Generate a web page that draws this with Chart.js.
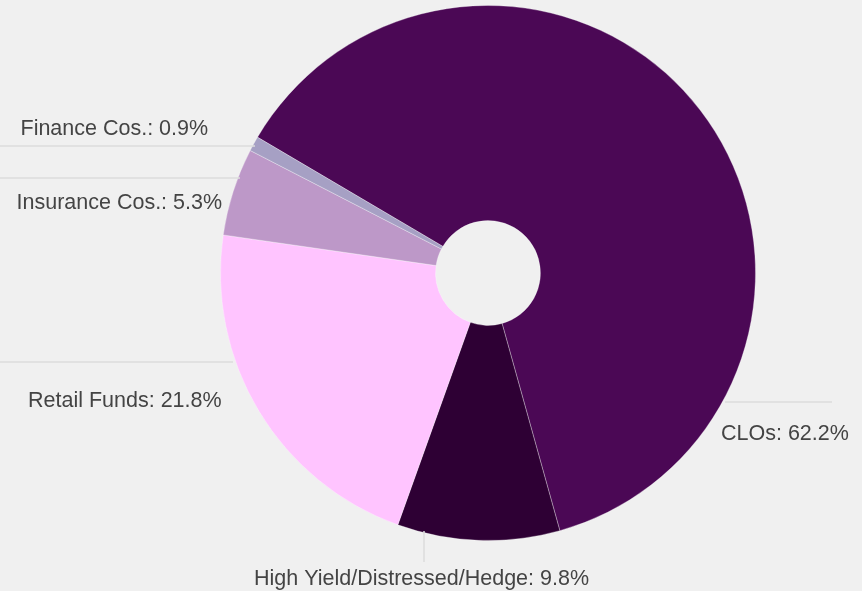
<!DOCTYPE html>
<html>
<head>
<meta charset="utf-8">
<script src="https://cdn.jsdelivr.net/npm/chart.js@4/dist/chart.umd.min.js"></script>
<style>
  html, body { margin: 0; padding: 0; background: #f0f0f0; }
  #wrap { width: 862px; height: 591px; position: relative; }
</style>
</head>
<body>
<div id="wrap"><canvas id="chart"></canvas></div>
<script>
// Investor base breakdown (% share)
const categories = ['CLOs', 'High Yield/Distressed/Hedge', 'Retail Funds', 'Insurance Cos.', 'Finance Cos.'];
const shares = [62.2, 9.8, 21.8, 5.3, 0.9];
const sliceColors = ['#4b0855', '#2e0034', '#ffc4ff', '#bd98c8', '#a6a0c4'];

// Where each callout sits, relative to the pie centre (px): leader line + text anchor.
const callouts = [
  { line: [237, 129, 344, 129], text: [233, 167] },     // CLOs
  { line: [-64, 258, -64, 289], text: [-234, 312] },    // High Yield
  { line: [-488, 89, -255, 89], text: [-460, 134] },    // Retail
  { line: [-488, -95, -248, -95], text: [-471.5, -64] },  // Insurance
  { line: [-488, -127, -233, -127], text: [-467.5, -138] } // Finance
];

const calloutPlugin = {
  id: 'callouts',
  afterDatasetsDraw(chart) {
    const { ctx } = chart;
    const arcs = chart.getDatasetMeta(0).data;
    ctx.save();
    arcs.forEach((arc, i) => {
      const c = callouts[i];
      const cx = arc.x, cy = arc.y;
      ctx.strokeStyle = '#dcdcdc';
      ctx.lineWidth = 1.5;
      ctx.beginPath();
      ctx.moveTo(cx + c.line[0], cy + c.line[1]);
      ctx.lineTo(cx + c.line[2], cy + c.line[3]);
      ctx.stroke();
      ctx.fillStyle = '#444444';
      ctx.font = '21.5px "Liberation Sans", Arial, sans-serif';
      ctx.textAlign = 'left';
      ctx.textBaseline = 'alphabetic';
      const v = chart.data.datasets[0].data[i];
      ctx.fillText(chart.data.labels[i] + ': ' + v.toFixed(1) + '%', cx + c.text[0], cy + c.text[1]);
    });
    ctx.restore();
  }
};

const bgPlugin = {
  id: 'bg',
  beforeDraw(chart) {
    const { ctx } = chart;
    ctx.save();
    ctx.fillStyle = '#f0f0f0';
    ctx.fillRect(0, 0, chart.width, chart.height);
    ctx.restore();
  }
};

new Chart(document.getElementById('chart'), {
  type: 'doughnut',
  data: {
    labels: categories,
    datasets: [{
      data: shares,
      backgroundColor: sliceColors,
      borderColor: 'rgba(255,255,255,0.3)',
      borderWidth: 1
    }]
  },
  options: {
    responsive: true,
    maintainAspectRatio: false,
    animation: false,
    rotation: -59.5,
    cutout: '19.6%',
    layout: { padding: { top: 5, bottom: 50, left: 220, right: 106 } },
    plugins: {
      legend: { display: false },
      tooltip: { enabled: false }
    }
  },
  plugins: [bgPlugin, calloutPlugin]
});
</script>
</body>
</html>
